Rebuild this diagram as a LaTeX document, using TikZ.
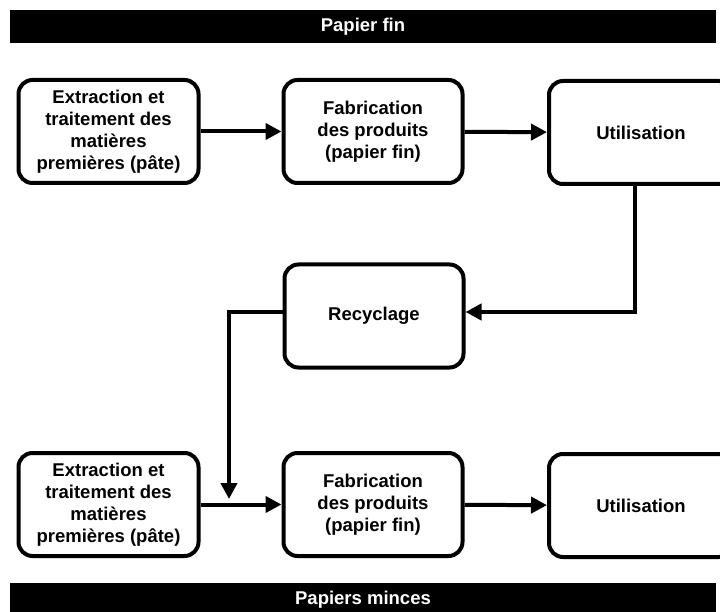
\documentclass[tikz,border=0pt]{standalone}
\usepackage{fontspec}
\setmainfont{Liberation Sans}
\usetikzlibrary{arrows.meta}

\begin{document}
\begin{tikzpicture}[x=1pt, y=-1pt,
		box/.style={draw=black, line width=4pt, rounded corners=14pt, fill=white,
			align=center, inner sep=0pt, minimum height=103pt,
			font=\bfseries\fontsize{18.5}{22}\selectfont},
		band/.style={fill=black, text=white, inner sep=0pt,
			minimum width=706pt, minimum height=33pt,
			font=\bfseries\fontsize{18.5}{22}\selectfont},
		flow/.style={line width=4pt, -{Triangle[length=16pt,width=16pt]}}]
		%%%%% START %%%%%
		
		\clip (0, 0) rectangle (720, 612);
		
		\node[band] (top) at (363, 26.5) {Papier fin};
		\node[band] (bottom) at (363, 599.5) {Papiers minces};
		
		% papier fin
		\node[box, minimum width=180pt] (ext1) at (108.5, 131.5) {Extraction et\\traitement des\\matières\\premières (pâte)};
		\node[box, minimum width=179pt] (fab1) at (373, 131.5) {Fabrication\\des produits\\(papier fin)};
		\node[box, minimum width=184pt] (use1) at (641, 132.5) {Utilisation};
		
		\draw[flow] (ext1) -- (fab1);
		\draw[flow] (fab1) -- (use1);
		
		% recyclage
		\node[box, minimum width=179pt, minimum height=103pt] (recy) at (374, 316) {Recyclage};
		\coordinate (drop) at (229, 499);
		
		\draw[flow] ([xshift=-6pt]use1.south) |- ([yshift=4pt]recy.east);
		\draw[flow] ([yshift=4pt]recy.west) -| (drop);
		
		% papiers minces
		\node[box, minimum width=180pt] (ext2) at (108.5, 504.5) {Extraction et\\traitement des\\matières\\premières (pâte)};
		\node[box, minimum width=179pt] (fab2) at (373, 504.5) {Fabrication\\des produits\\(papier fin)};
		\node[box, minimum width=184pt] (use2) at (641, 505.5) {Utilisation};
		
		\draw[flow] (ext2) -- (fab2);
		\draw[flow] (fab2) -- (use2);
		
		%%%%% END %%%%%
	\end{tikzpicture}
\end{document}
